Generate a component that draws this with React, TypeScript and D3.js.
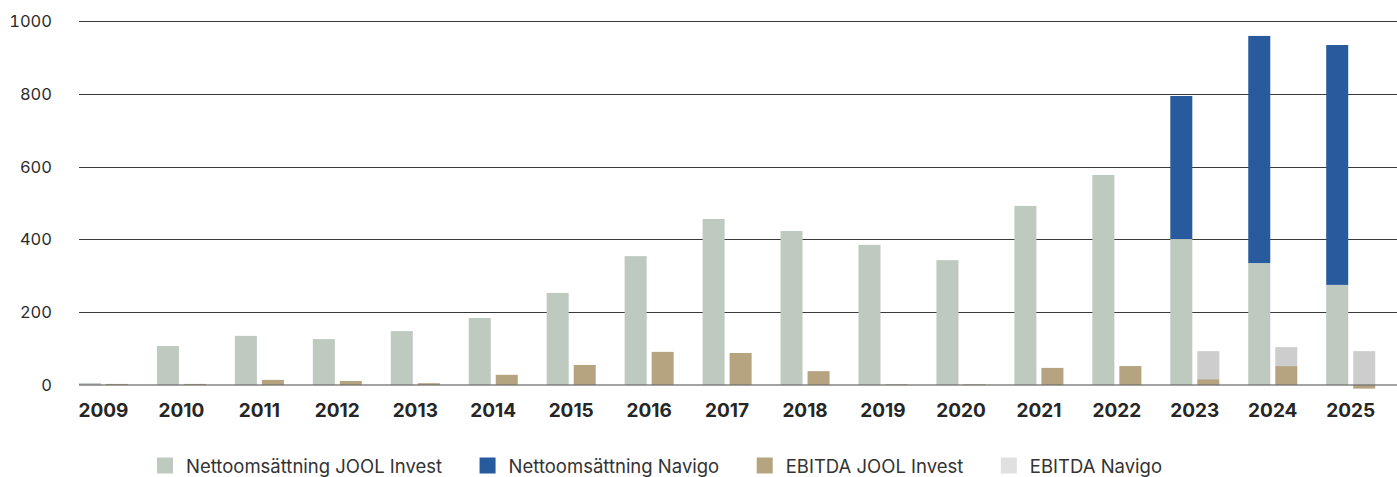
import React from "react";
import * as d3 from "d3";

const years = ["2009","2010","2011","2012","2013","2014","2015","2016","2017","2018","2019","2020","2021","2022","2023","2024","2025"];
const revenueJOOL = [5, 107, 135, 126, 148, 184, 253, 354, 456, 423, 385, 343, 492, 577, 401, 335, 275];
const revenueNavigo = [0, 0, 0, 0, 0, 0, 0, 0, 0, 0, 0, 0, 0, 0, 393, 624, 659];
const ebitdaJOOL = [3, 3, 14, 11, 5, 28, 55, 91, 88, 38, 2, 2, 47, 52, 16, 52, -10];
const ebitdaNavigo = [0, 0, 0, 0, 0, 0, 0, 0, 0, 0, 0, 0, 0, 0, 77, 52, 93];
const yTicks = [0, 200, 400, 600, 800, 1000];
const legendLabels = ["Nettoomsättning JOOL Invest", "Nettoomsättning Navigo", "EBITDA JOOL Invest", "EBITDA Navigo"];

const W = 1397;
const H = 477;
const colors = {
  revJOOL: "#bec9c0",
  revNavigo: "#285b9d",
  ebJOOL: "#b5a47f",
  ebNavigo: "#cdcdcd",
};
const legendColors = ["#bec9c0", "#285b9d", "#b5a47f", "#e0e0e0"];
const FONT = "Inter, 'Noto Sans', sans-serif";
const LEGEND_FS = 18.5;

export default function App() {
  const x = d3.scaleBand<string>().domain(years).range([64.5, 1389.7]).paddingInner(0.371).paddingOuter(0.1855);
  const inner = d3.scaleBand<string>().domain(["rev", "eb"]).range([0, x.bandwidth()]).paddingInner(0.185);
  const y = d3.scaleLinear().domain([0, 1000]).range([385, 21]);

  const rows = years.map((yr, i) => ({
    year: yr,
    revJOOL: revenueJOOL[i],
    revNavigo: revenueNavigo[i],
    ebJOOL: ebitdaJOOL[i],
    ebNavigo: ebitdaNavigo[i],
  }));
  const revStack = d3.stack<any>().keys(["revJOOL", "revNavigo"]).offset(d3.stackOffsetDiverging)(rows);
  const ebStack = d3.stack<any>().keys(["ebJOOL", "ebNavigo"]).offset(d3.stackOffsetDiverging)(rows);

  // legend layout
  const ctx = typeof document !== "undefined" ? document.createElement("canvas").getContext("2d") : null;
  if (ctx) ctx.font = `${LEGEND_FS}px ${FONT}`;
  let lx = 157;
  const legendItems = legendLabels.map((label, i) => {
    const w = ctx ? ctx.measureText(label).width : label.length * 9.5;
    const item = { label, x: lx, color: legendColors[i] };
    lx += 16 + 13 + w + 37.5;
    return item;
  });

  const drawStack = (stack: any[], sub: string) =>
    stack.map((series: any) => (
      <g key={series.key} fill={(colors as any)[series.key]}>
        {series.map((d: any, i: number) => {
          const top = Math.max(d[0], d[1]);
          const bot = Math.min(d[0], d[1]);
          const h = y(bot) - y(top);
          if (h <= 0) return null;
          return (
            <rect
              key={i}
              x={(x(d.data.year) as number) + (inner(sub) as number)}
              y={y(top)}
              width={inner.bandwidth()}
              height={h}
            />
          );
        })}
      </g>
    ));

  return (
    <div>
      <style>{`body{margin:0}`}</style>
      <svg width={W} height={H} style={{ display: "block", fontFamily: FONT }}>
        <rect width={W} height={H} fill="#ffffff" />
        <g>
          {yTicks.filter((t) => t !== 0).map((t) => (
            <line key={t} x1={79} x2={W} y1={Math.round(y(t)) + 0.5} y2={Math.round(y(t)) + 0.5} stroke="#3a3a3a" strokeWidth={1} />
          ))}
        </g>
        <g>
          {yTicks.map((t) => (
            <text
              key={t}
              x={52}
              y={y(t)}
              dy="0.36em"
              textAnchor="end"
              fontSize={16.5}
              fill="#2b2b2b"
              style={{ fontVariantNumeric: "tabular-nums", fontFeatureSettings: "'tnum' 1" }}
            >
              {t}
            </text>
          ))}
        </g>
        {drawStack(revStack, "rev")}
        {drawStack(ebStack, "eb")}
        <line x1={79} x2={W} y1={y(0)} y2={y(0)} stroke="#6e6e6e" strokeWidth={1.6} strokeOpacity={0.85} />
        <g>
          {years.map((yr) => (
            <text
              key={yr}
              x={(x(yr) as number) + x.bandwidth() / 2}
              y={416.5}
              textAnchor="middle"
              fontSize={19}
              fontWeight={700}
              fill="#262626"
            >
              {yr}
            </text>
          ))}
        </g>
        <g>
          {legendItems.map((it) => (
            <g key={it.label}>
              <rect x={it.x} y={457.5} width={16} height={16} fill={it.color} />
              <text x={it.x + 29} y={472.5} fontSize={LEGEND_FS} fill="#333333">
                {it.label}
              </text>
            </g>
          ))}
        </g>
      </svg>
    </div>
  );
}
